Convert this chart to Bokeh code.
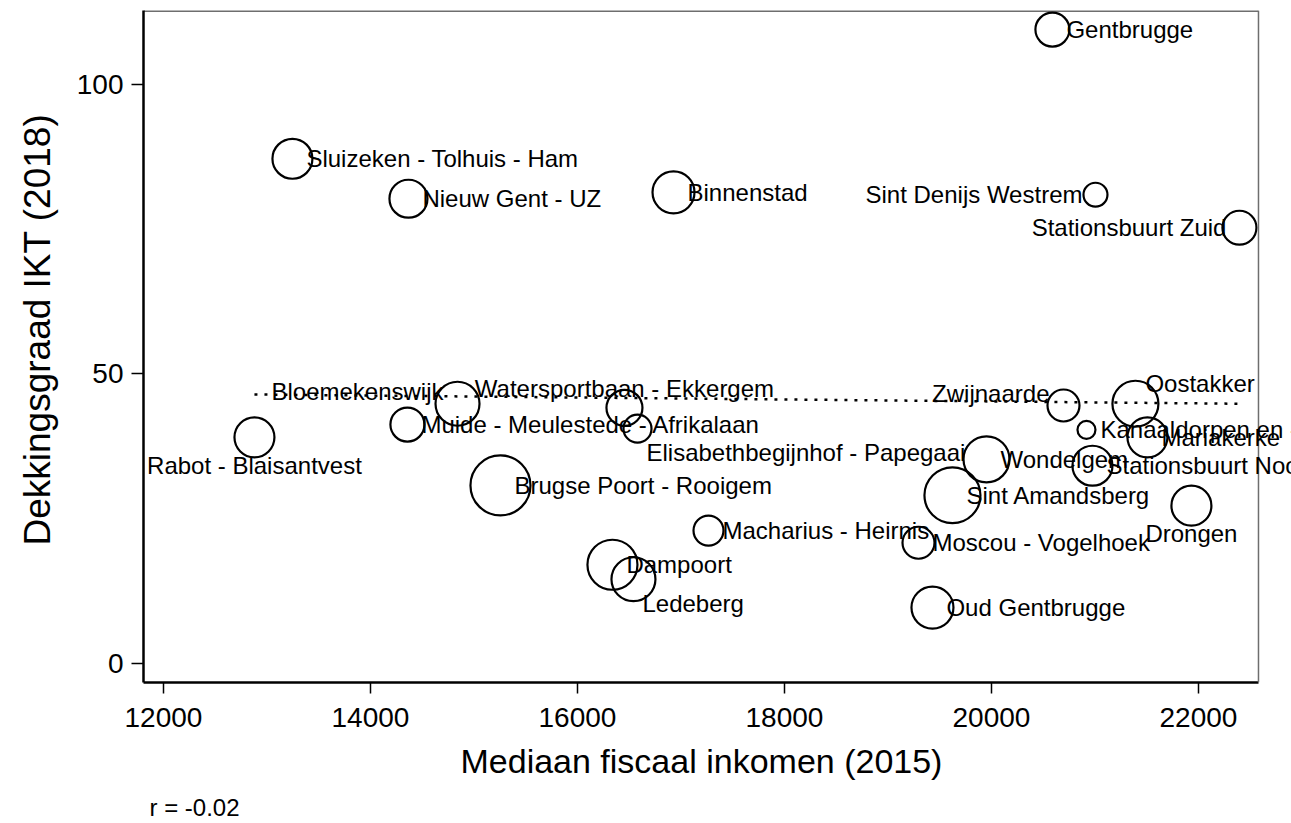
import numpy as np
from bokeh.plotting import figure
from bokeh.models import ColumnDataSource, LabelSet, FixedTicker, Range1d, Span, Title
from bokeh.core.properties import value
from bokeh.embed import file_html
from bokeh.resources import INLINE

# ---------------- data ----------------
wijken = [
    "Gentbrugge", "Sluizeken - Tolhuis - Ham", "Nieuw Gent - UZ", "Binnenstad",
    "Sint Denijs Westrem", "Stationsbuurt Zuid", "Bloemekenswijk",
    "Watersportbaan - Ekkergem", "Zwijnaarde", "Oostakker",
    "Muide - Meulestede - Afrikalaan", "Kanaaldorpen en -zone", "Mariakerke",
    "Rabot - Blaisantvest", "Elisabethbegijnhof - Papegaai", "Wondelgem",
    "Stationsbuurt Noord", "Brugse Poort - Rooigem", "Sint Amandsberg", "Drongen",
    "Macharius - Heirnis", "Moscou - Vogelhoek", "Dampoort", "Ledeberg",
    "Oud Gentbrugge",
]
mediaan_inkomen = [
    20589, 13246, 14367, 16928, 21005, 22396, 14841, 16454, 20696, 21391,
    14357, 20918, 21507, 12879, 16580, 19952, 20976, 15256, 19623, 21932,
    17266, 19295, 16338, 16541, 19430,
]
dekkingsgraad = [
    109.4, 87.1, 80.2, 81.3, 80.9, 75.2, 44.8, 44.1, 44.5, 44.8,
    41.2, 40.3, 39.0, 39.0, 40.5, 35.2, 34.1, 30.7, 29.0, 27.2,
    22.9, 20.8, 17.0, 14.5, 9.6,
]
gewicht = [
    6070, 8250, 7490, 9060, 3160, 6070, 9900, 6760, 5410, 10780,
    6070, 1870, 8250, 8250, 4210, 10780, 8250, 17990, 15740, 8250,
    4790, 5410, 12660, 9900, 9060,
]
# Stata-style clock positions of the marker labels
label_pos = [
    3, 3, 3, 3, 9, 9, 10, 12, 10, 1,
    3, 3, 3, 6, 4, 3, 3, 3, 3, 6,
    3, 3, 3, 4, 3,
]
fit_start = 46.4   # fitted value at lowest income
fit_end = 44.8     # fitted value at highest income
x_ticks = [12000, 14000, 16000, 18000, 20000, 22000]
y_ticks = [0, 50, 100]
x_title = "Mediaan fiscaal inkomen (2015)"
y_title = "Dekkingsgraad IKT (2018)"
note = "r = -0.02"

# ---------------- figure ----------------
FONT = "Liberation Sans"
X0, X1, XPAD = 11807, 22580, 22899   # plot region; XPAD lets labels run past the frame
Y0, Y1 = -3.33, 112.7
p = figure(
    width=1291, height=823,
    x_range=Range1d(X0, XPAD), y_range=Range1d(Y0, Y1),
    output_backend="svg", toolbar_location=None,
    min_border_left=143, min_border_right=0, min_border_top=10, min_border_bottom=141,
)
p.background_fill_color = "white"
p.border_fill_color = "white"
p.grid.visible = False
p.outline_line_color = None

for ax in (p.xaxis[0], p.yaxis[0]):
    ax.axis_line_color = "black"
    ax.axis_line_width = 2.5
    ax.major_tick_line_color = "black"
    ax.major_tick_line_width = 1.5
    ax.major_tick_in = 0
    ax.minor_tick_line_color = None
    ax.major_label_text_font = FONT
    ax.major_label_text_font_size = "28px"
    ax.major_label_text_color = "black"

p.xaxis[0].bounds = (X0, X1)
p.xaxis[0].ticker = FixedTicker(ticks=x_ticks)
p.yaxis[0].ticker = FixedTicker(ticks=y_ticks)
p.xaxis[0].major_tick_out = 11
p.yaxis[0].major_tick_out = 12
p.xaxis[0].major_label_standoff = 14
p.yaxis[0].major_label_standoff = 8
p.yaxis[0].major_label_orientation = "horizontal"

# axis titles as side titles (placed on the bordered plot region, not the padded frame)
p.add_layout(Title(text=y_title, align="left", offset=137, standoff=29,
                   vertical_align="middle",
                   text_font=FONT, text_font_size="37px", text_font_style="normal",
                   text_color="black"), "left")
p.add_layout(Title(text=x_title, align="left", offset=317, standoff=21,
                   text_font=FONT, text_font_size="34px", text_font_style="normal",
                   text_color="black"), "below")
p.add_layout(Title(text=note, align="left", offset=6, standoff=2,
                   text_font=FONT, text_font_size="24px", text_font_style="normal",
                   text_color="black"), "below")

# frame borders (top and right, grey)
p.add_layout(Span(location=X1, dimension="height", line_color="#6e6e6e", line_width=1.5))
p.segment(x0=[X0], y0=[Y1], x1=[X1], y1=[Y1], line_color="#6e6e6e", line_width=3)

# fit line
xmin, xmax = min(mediaan_inkomen), max(mediaan_inkomen)
p.line([xmin, xmax], [fit_start, fit_end], line_color="black", line_width=2.5,
       line_dash="3 7")

# bubbles (area proportional to weight)
w = np.array(gewicht, dtype=float)
sizes = 2 * 0.2311 * np.sqrt(w) - 2
src = ColumnDataSource(dict(x=mediaan_inkomen, y=dekkingsgraad, s=sizes, name=wijken))
p.scatter("x", "y", size="s", source=src, marker="circle", fill_alpha=0,
          line_color="black", line_width=2.2)

# labels grouped by clock position
pos_style = {
    3: (14, 0, "left"),
    9: (-13, 0, "right"),
    12: (0, 19, "center"),
    6: (0, -28, "center"),
    10: (-14, 12, "right"),
    1: (10, 20, "left"),
    4: (9, -24, "left"),
}
for pos, (dx, dy, align) in pos_style.items():
    idx = [i for i, q in enumerate(label_pos) if q == pos]
    if not idx:
        continue
    s = ColumnDataSource(dict(
        x=[mediaan_inkomen[i] for i in idx],
        y=[dekkingsgraad[i] for i in idx],
        t=[wijken[i] for i in idx],
    ))
    p.add_layout(LabelSet(x="x", y="y", text="t", source=s, x_offset=dx, y_offset=dy,
                          text_align=align, text_baseline="middle",
                          text_font=value(FONT), text_font_size=value("24px"),
                          text_color="black"))

open("out.html", "w").write(file_html(p, INLINE))
